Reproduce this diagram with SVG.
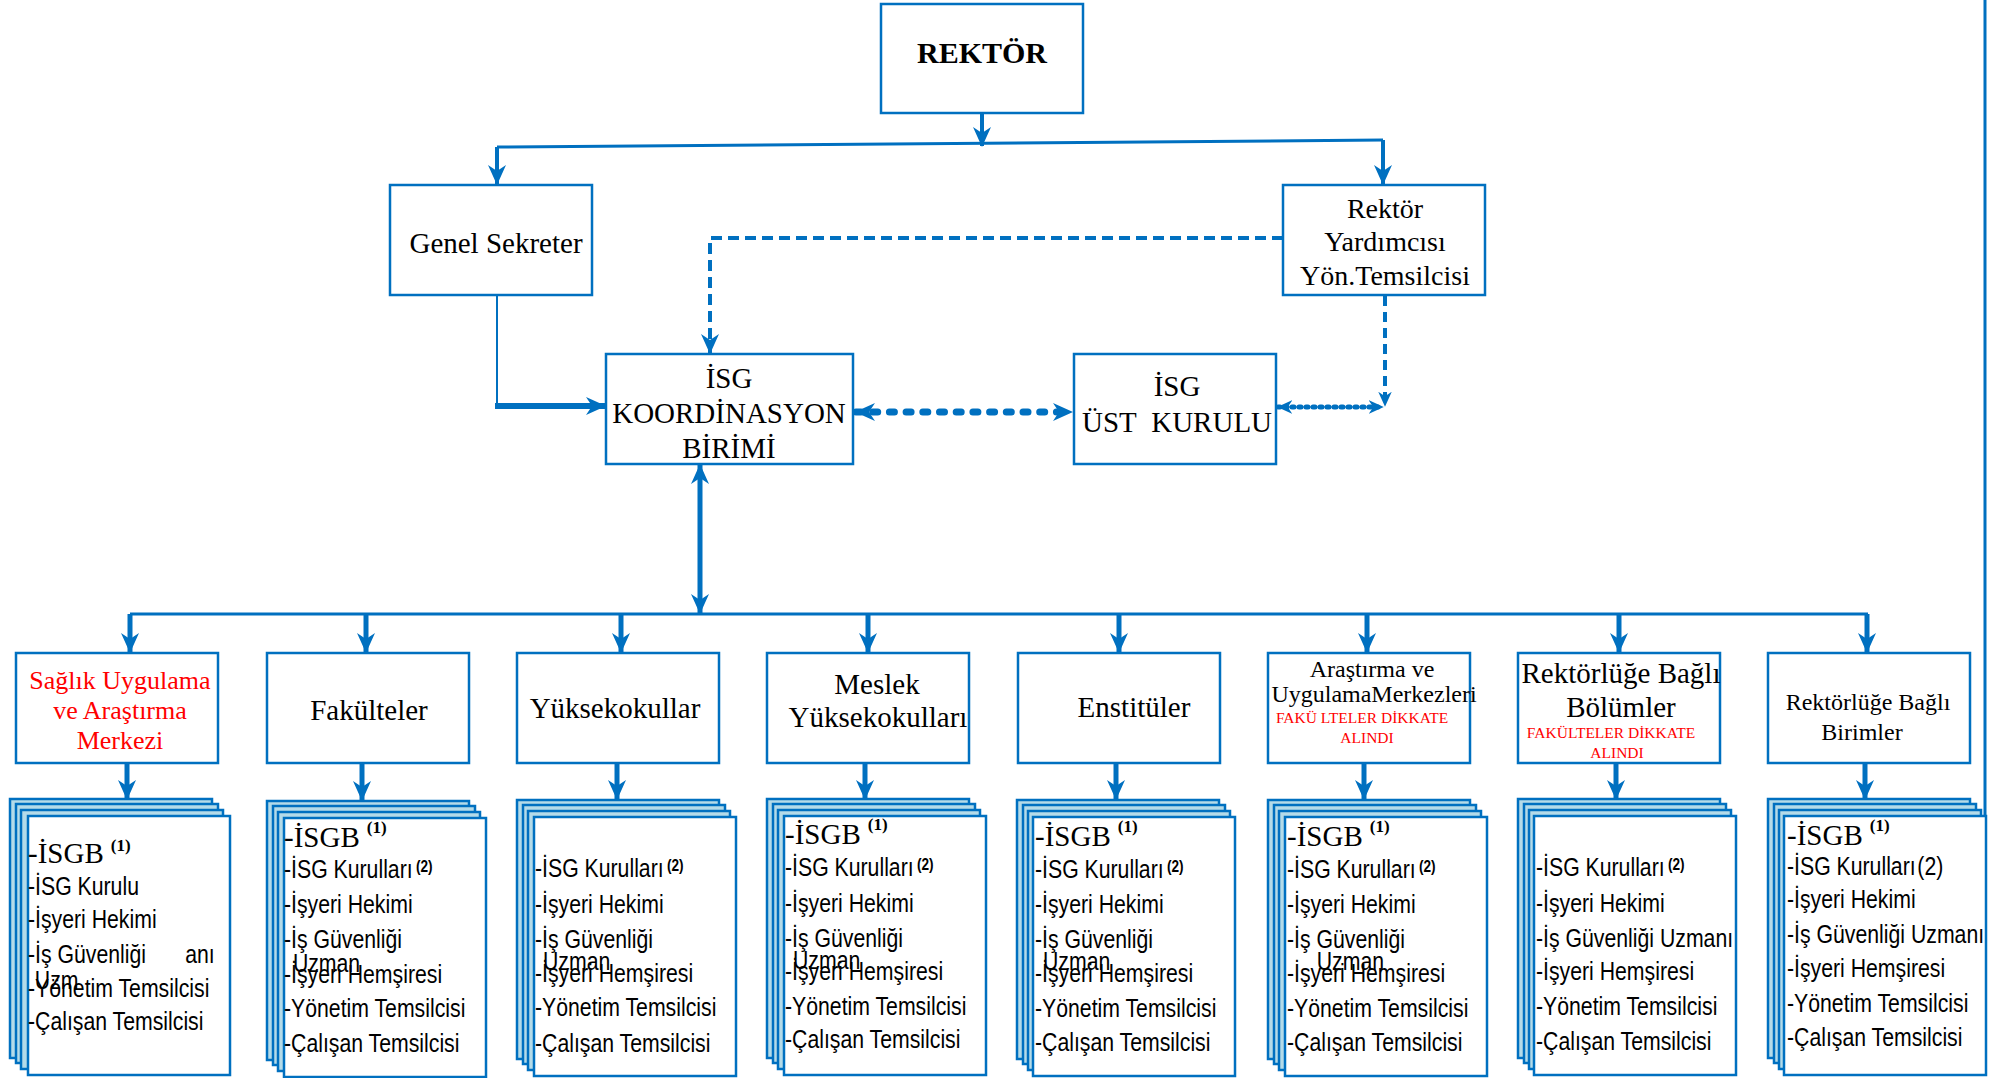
<svg xmlns="http://www.w3.org/2000/svg" width="1991" height="1078" viewBox="0 0 1991 1078">
<style>
.t{font-family:"Liberation Serif","Times New Roman",serif;fill:#000}
.red{fill:#ff0000}
.s{font-family:"Liberation Sans",Arial,sans-serif;font-size:25px;fill:#000}
.sup2{font-weight:bold;font-size:16px}
.isgb{font-family:"Liberation Serif","Times New Roman",serif;font-size:29px;fill:#000}
.sup1{font-weight:bold;font-size:17px}
.box{fill:#fff;stroke:#0070c0;stroke-width:2.5}
.lay{fill:#b4dbe9;stroke:#0070c0;stroke-width:2.5}
.ln{fill:none;stroke:#0070c0}
</style>
<defs>
<marker id="arr" viewBox="0 0 20 20" markerUnits="userSpaceOnUse" markerWidth="20" markerHeight="20" refX="19" refY="10" orient="auto-start-reverse">
<path d="M0,1 L20,10 L0,19 L6,10 z" fill="#0070c0"/>
</marker>
<marker id="arrs" viewBox="0 0 20 20" markerUnits="userSpaceOnUse" markerWidth="15" markerHeight="15" refX="19" refY="10" orient="auto-start-reverse">
<path d="M0,1 L20,10 L0,19 L6,10 z" fill="#0070c0"/>
</marker>
</defs>
<rect width="1991" height="1078" fill="#fff"/>

<g id="connectors">
<path class="ln" stroke-width="3" d="M1985,0 V815"/>
<path class="ln" stroke-width="4" d="M982,113 V146" marker-end="url(#arr)"/>
<path class="ln" stroke-width="3" d="M497,147 L1383,140"/>
<path class="ln" stroke-width="4" d="M497,147 V184" marker-end="url(#arr)"/>
<path class="ln" stroke-width="4" d="M1383,140 V184" marker-end="url(#arr)"/>
<path class="ln" stroke-width="2" d="M497,295 V406"/>
<path class="ln" stroke-width="6" d="M495,406 H605" marker-end="url(#arr)"/>
<path class="ln" stroke-width="4" stroke-dasharray="11 6" d="M1283,238 H710 V353" marker-end="url(#arr)"/>
<path class="ln" stroke-width="7" stroke-dasharray="5 11.7" stroke-linecap="round" d="M856,412 H1072" marker-start="url(#arr)" marker-end="url(#arr)"/>
<path class="ln" stroke-width="4" stroke-dasharray="10 6" d="M1385,296 V406" marker-end="url(#arrs)"/>
<path class="ln" stroke-width="5" stroke-dasharray="2 5" stroke-linecap="round" d="M1278,407 H1383" marker-start="url(#arrs)" marker-end="url(#arrs)"/>
<path class="ln" stroke-width="5" d="M700,465 V613" marker-start="url(#arr)" marker-end="url(#arr)"/>
<path class="ln" stroke-width="3" d="M130,614 H1868"/>
<g class="ln" stroke-width="5" marker-end="url(#arr)">
<path d="M130,614 V652" marker-end="url(#arr)"/>
<path d="M366,614 V652" marker-end="url(#arr)"/>
<path d="M621,614 V652" marker-end="url(#arr)"/>
<path d="M868,614 V652" marker-end="url(#arr)"/>
<path d="M1119,614 V652" marker-end="url(#arr)"/>
<path d="M1367,614 V652" marker-end="url(#arr)"/>
<path d="M1619,614 V652" marker-end="url(#arr)"/>
<path d="M1867,614 V652" marker-end="url(#arr)"/>
<path d="M127,763 V799" marker-end="url(#arr)"/>
<path d="M362,763 V800" marker-end="url(#arr)"/>
<path d="M617,763 V799" marker-end="url(#arr)"/>
<path d="M865,763 V799" marker-end="url(#arr)"/>
<path d="M1116,763 V799" marker-end="url(#arr)"/>
<path d="M1364,763 V799" marker-end="url(#arr)"/>
<path d="M1616,763 V799" marker-end="url(#arr)"/>
<path d="M1865,763 V799" marker-end="url(#arr)"/>
</g>
</g>

<g id="rektor">
<rect class="box" x="881" y="4" width="202" height="109"/>
<text class="t" x="982" y="63" font-size="30" font-weight="bold" text-anchor="middle">REKTÖR</text>
</g>
<g id="genel-sekreter">
<rect class="box" x="390" y="185" width="202" height="110"/>
<text class="t" x="496" y="253" font-size="29" text-anchor="middle">Genel Sekreter</text>
</g>
<g id="rektor-yardimcisi">
<rect class="box" x="1283" y="185" width="202" height="110"/>
<text class="t" font-size="28" text-anchor="middle"><tspan x="1385" y="218">Rektör</tspan><tspan x="1385" y="251">Yardımcısı</tspan><tspan x="1385" y="285">Yön.Temsilcisi</tspan></text>
</g>
<g id="isg-koordinasyon">
<rect class="box" x="606" y="354" width="247" height="110"/>
<text class="t" font-size="29" text-anchor="middle"><tspan x="729" y="388">İSG</tspan><tspan x="729" y="423">KOORDİNASYON</tspan><tspan x="729" y="458">BİRİMİ</tspan></text>
</g>
<g id="isg-ust-kurulu">
<rect class="box" x="1074" y="354" width="202" height="110"/>
<text class="t" font-size="29" text-anchor="middle"><tspan x="1177" y="396">İSG</tspan><tspan x="1177" y="432">ÜST&#160; KURULU</tspan></text>
</g>

<g id="saglik">
<rect class="box" x="16" y="653" width="202" height="110"/>
<text class="t red" font-size="26" text-anchor="middle"><tspan x="120" y="689">Sağlık Uygulama</tspan><tspan x="120" y="719">ve Araştırma</tspan><tspan x="120" y="749">Merkezi</tspan></text>
</g>
<g id="fakulteler">
<rect class="box" x="267" y="653" width="202" height="110"/>
<text class="t" x="369" y="720" font-size="29" text-anchor="middle">Fakülteler</text>
</g>
<g id="yuksekokullar">
<rect class="box" x="517" y="653" width="202" height="110"/>
<text class="t" x="615" y="718" font-size="29" text-anchor="middle">Yüksekokullar</text>
</g>
<g id="meslek">
<rect class="box" x="767" y="653" width="202" height="110"/>
<text class="t" font-size="29" text-anchor="middle"><tspan x="877" y="694">Meslek</tspan><tspan x="878" y="727">Yüksekokulları</tspan></text>
</g>
<g id="enstituler">
<rect class="box" x="1018" y="653" width="202" height="110"/>
<text class="t" x="1134" y="717" font-size="29" text-anchor="middle">Enstitüler</text>
</g>
<g id="arastirma">
<rect class="box" x="1268" y="653" width="202" height="110"/>
<text class="t" font-size="24" text-anchor="middle"><tspan x="1372" y="677">Araştırma ve</tspan><tspan x="1374" y="702">UygulamaMerkezleri</tspan></text>
<text class="t red" font-size="15.5" text-anchor="middle"><tspan x="1362" y="723">FAKÜ LTELER DİKKATE</tspan><tspan x="1367" y="743">ALINDI</tspan></text>
</g>
<g id="rektorluge-bolumler">
<rect class="box" x="1518" y="653" width="202" height="110"/>
<text class="t" font-size="29" text-anchor="middle"><tspan x="1621" y="683">Rektörlüğe Bağlı</tspan><tspan x="1621" y="717">Bölümler</tspan></text>
<text class="t red" font-size="15.5" text-anchor="middle"><tspan x="1611" y="738">FAKÜLTELER DİKKATE</tspan><tspan x="1617" y="758">ALINDI</tspan></text>
</g>
<g id="rektorluge-birimler">
<rect class="box" x="1768" y="653" width="202" height="110"/>
<text class="t" font-size="24" text-anchor="middle"><tspan x="1868" y="710">Rektörlüğe Bağlı</tspan><tspan x="1862" y="740">Birimler</tspan></text>
</g>

<g id="stack1">
<rect class="lay" x="10" y="799" width="202" height="259"/>
<rect class="lay" x="16" y="804" width="202" height="259"/>
<rect class="lay" x="21" y="810" width="202" height="259"/>
<rect class="box" x="28" y="816" width="202" height="259"/>
<text class="isgb" x="28" y="863">-İSGB<tspan class="sup1" dx="7" dy="-12">(1)</tspan></text>
<g class="s" transform="translate(28 0) scale(0.85 1)">
<text x="0" y="895">-İSG Kurulu</text>
<text x="0" y="928">-İşyeri Hekimi</text>
<text x="0" y="963">-İş Güvenliği</text>
<text x="185" y="963">anı</text>
<text x="8" y="989">Uzm</text>
<text x="0" y="997">-Yönetim Temsilcisi</text>
<text x="0" y="1030">-Çalışan Temsilcisi</text>
</g>
</g>

<g id="stack2">
<rect class="lay" x="267" y="801" width="202" height="259"/>
<rect class="lay" x="273" y="806" width="202" height="259"/>
<rect class="lay" x="278" y="812" width="202" height="259"/>
<rect class="box" x="284" y="818" width="202" height="259"/>
<text class="isgb" x="284" y="847">-İSGB<tspan class="sup1" dx="7" dy="-14">(1)</tspan></text>
<g class="s" transform="translate(284 0) scale(0.85 1)">
<text x="0" y="878">-İSG Kurulları<tspan class="sup2" dx="4" dy="-6">(2)</tspan></text>
<text x="0" y="913">-İşyeri Hekimi</text>
<text x="0" y="948">-İş Güvenliği</text>
<text x="10.5" y="972">Uzman</text>
<text x="0" y="983">-İşyeri Hemşiresi</text>
<text x="0" y="1017">-Yönetim Temsilcisi</text>
<text x="0" y="1052">-Çalışan Temsilcisi</text>
</g>
</g>

<g id="stack3">
<rect class="lay" x="517" y="800" width="202" height="259"/>
<rect class="lay" x="523" y="805" width="202" height="259"/>
<rect class="lay" x="528" y="811" width="202" height="259"/>
<rect class="box" x="534" y="817" width="202" height="259"/>
<g class="s" transform="translate(535 0) scale(0.85 1)">
<text x="0" y="877">-İSG Kurulları<tspan class="sup2" dx="4" dy="-6">(2)</tspan></text>
<text x="0" y="913">-İşyeri Hekimi</text>
<text x="0" y="948">-İş Güvenliği</text>
<text x="9.4" y="970">Uzman</text>
<text x="0" y="982">-İşyeri Hemşiresi</text>
<text x="0" y="1016">-Yönetim Temsilcisi</text>
<text x="0" y="1052">-Çalışan Temsilcisi</text>
</g>
</g>

<g id="stack4">
<rect class="lay" x="767" y="799" width="202" height="259"/>
<rect class="lay" x="773" y="804" width="202" height="259"/>
<rect class="lay" x="778" y="810" width="202" height="259"/>
<rect class="box" x="784" y="816" width="202" height="259"/>
<text class="isgb" x="785" y="844">-İSGB<tspan class="sup1" dx="7" dy="-14">(1)</tspan></text>
<g class="s" transform="translate(785 0) scale(0.85 1)">
<text x="0" y="876">-İSG Kurulları<tspan class="sup2" dx="4" dy="-6">(2)</tspan></text>
<text x="0" y="912">-İşyeri Hekimi</text>
<text x="0" y="947">-İş Güvenliği</text>
<text x="9.4" y="969">Uzman</text>
<text x="0" y="980">-İşyeri Hemşiresi</text>
<text x="0" y="1015">-Yönetim Temsilcisi</text>
<text x="0" y="1048">-Çalışan Temsilcisi</text>
</g>
</g>

<g id="stack5">
<rect class="lay" x="1017" y="800" width="202" height="259"/>
<rect class="lay" x="1023" y="805" width="202" height="259"/>
<rect class="lay" x="1028" y="811" width="202" height="259"/>
<rect class="box" x="1033" y="817" width="202" height="259"/>
<text class="isgb" x="1035" y="846">-İSGB<tspan class="sup1" dx="7" dy="-14">(1)</tspan></text>
<g class="s" transform="translate(1035 0) scale(0.85 1)">
<text x="0" y="878">-İSG Kurulları<tspan class="sup2" dx="4" dy="-6">(2)</tspan></text>
<text x="0" y="913">-İşyeri Hekimi</text>
<text x="0" y="948">-İş Güvenliği</text>
<text x="9.4" y="970">Uzman</text>
<text x="0" y="982">-İşyeri Hemşiresi</text>
<text x="0" y="1017">-Yönetim Temsilcisi</text>
<text x="0" y="1051">-Çalışan Temsilcisi</text>
</g>
</g>

<g id="stack6">
<rect class="lay" x="1268" y="800" width="202" height="259"/>
<rect class="lay" x="1274" y="805" width="202" height="259"/>
<rect class="lay" x="1279" y="811" width="202" height="259"/>
<rect class="box" x="1285" y="817" width="202" height="259"/>
<text class="isgb" x="1287" y="846">-İSGB<tspan class="sup1" dx="7" dy="-14">(1)</tspan></text>
<g class="s" transform="translate(1287 0) scale(0.85 1)">
<text x="0" y="878">-İSG Kurulları<tspan class="sup2" dx="4" dy="-6">(2)</tspan></text>
<text x="0" y="913">-İşyeri Hekimi</text>
<text x="0" y="948">-İş Güvenliği</text>
<text x="35" y="970">Uzman</text>
<text x="0" y="982">-İşyeri Hemşiresi</text>
<text x="0" y="1017">-Yönetim Temsilcisi</text>
<text x="0" y="1051">-Çalışan Temsilcisi</text>
</g>
</g>

<g id="stack7">
<rect class="lay" x="1518" y="799" width="202" height="259"/>
<rect class="lay" x="1524" y="804" width="202" height="259"/>
<rect class="lay" x="1529" y="810" width="202" height="259"/>
<rect class="box" x="1534" y="816" width="202" height="259"/>
<g class="s" transform="translate(1536 0) scale(0.85 1)">
<text x="0" y="876">-İSG Kurulları<tspan class="sup2" dx="4" dy="-6">(2)</tspan></text>
<text x="0" y="912">-İşyeri Hekimi</text>
<text x="0" y="947">-İş Güvenliği Uzmanı</text>
<text x="0" y="980">-İşyeri Hemşiresi</text>
<text x="0" y="1015">-Yönetim Temsilcisi</text>
<text x="0" y="1050">-Çalışan Temsilcisi</text>
</g>
</g>

<g id="stack8">
<rect class="lay" x="1768" y="799" width="202" height="259"/>
<rect class="lay" x="1774" y="804" width="202" height="259"/>
<rect class="lay" x="1779" y="810" width="202" height="259"/>
<rect class="box" x="1784" y="816" width="202" height="259"/>
<text class="isgb" x="1787" y="845">-İSGB<tspan class="sup1" dx="7" dy="-14">(1)</tspan></text>
<g class="s" transform="translate(1787 0) scale(0.85 1)">
<text x="0" y="875">-İSG Kurulları<tspan dx="2">(2)</tspan></text>
<text x="0" y="908">-İşyeri Hekimi</text>
<text x="0" y="943">-İş Güvenliği Uzmanı</text>
<text x="0" y="977">-İşyeri Hemşiresi</text>
<text x="0" y="1012">-Yönetim Temsilcisi</text>
<text x="0" y="1046">-Çalışan Temsilcisi</text>
</g>
</g>
</svg>
